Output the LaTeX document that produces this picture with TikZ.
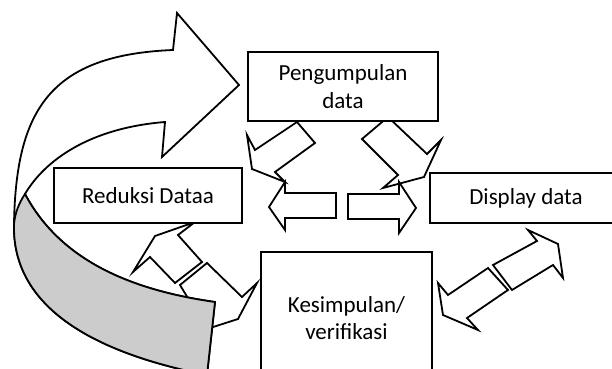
\documentclass[tikz,border=0pt]{standalone}
\usepackage{fontspec}
\setmainfont{Carlito}
\usetikzlibrary{positioning}

\tikzset{
	box/.style={draw=black, fill=white, line width=0.9pt, align=center, inner sep=0pt,
		font=\fontsize{11.5}{13.8}\selectfont},
	blockarrow/.style={draw=black, fill=white, line width=0.9pt},
}

\begin{document}
\begin{tikzpicture}[x=0.5pt,y=-0.5pt]
		\definecolor{band}{gray}{0.8}
		\useasboundingbox (0,0) rectangle (612,369);
		\clip (0,0) rectangle (612,369);
		% Pengumpulan -> Reduksi
		\filldraw[blockarrow]
		      (297,122)
		   -- (315,143)
		   -- (275,172)
		   -- (285,182)
		   -- (252,169)
		   -- (247,135)
		   -- (255,150)
		   -- cycle;
		% Pengumpulan -> Display
		\filldraw[blockarrow]
		      (388,117)
		   -- (427,154)
		   -- (441,140)
		   -- (424,177)
		   -- (383,188)
		   -- (398,175)
		   -- (362,139)
		   -- cycle;
		% middle pair
		\filldraw[blockarrow]
		      (336,193)
		   -- (285,193)
		   -- (285,182)
		   -- (269,207)
		   -- (285,230)
		   -- (285,218)
		   -- (336,218)
		   -- cycle;
		\filldraw[blockarrow]
		      (348,194)
		   -- (399,194)
		   -- (399,182)
		   -- (416,208)
		   -- (399,233)
		   -- (399,219)
		   -- (348,219)
		   -- cycle;
		% Reduksi <-> Kesimpulan
		\filldraw[blockarrow]
		      (202,262)
		   -- (178,235)
		   -- (195,222)
		   -- (155,236)
		   -- (133,272)
		   -- (150,257)
		   -- (175,283)
		   -- cycle;
		\filldraw[blockarrow]
		      (180,285)
		   -- (207,263)
		   -- (242,297)
		   -- (257,283)
		   -- (238,319)
		   -- (210,328)
		   -- (200,318)
		   -- cycle;
		% Kesimpulan <-> Display
		\filldraw[blockarrow]
		      (488,268)
		   -- (448,295)
		   -- (438,283)
		   -- (443,315)
		   -- (478,330)
		   -- (467,318)
		   -- (508,290)
		   -- cycle;
		\filldraw[blockarrow]
		      (493,265)
		   -- (537,241)
		   -- (528,230)
		   -- (558,244)
		   -- (563,278)
		   -- (553,265)
		   -- (512,290)
		   -- cycle;
		% big curved arrow
		\filldraw[blockarrow]
		      (207,375)
		   .. controls (80,350) and (12,300) .. (14,224)
		   .. controls (16,110) and (50,55) .. (173,50)
		   -- (177,13)
		   -- (239,85)
		   -- (162,157)
		   -- (165,122)
		   .. controls (90,128) and (45,160) .. (25,194)
		   .. controls (60,260) and (130,290) .. (215,302)
		   -- cycle;
		\filldraw[blockarrow, fill=band]
		      (25,194)
		   .. controls (60,260) and (130,290) .. (215,302)
		   -- (207,375)
		   .. controls (80,350) and (12,300) .. (14,224)
		   .. controls (15,213) and (19,203) .. (25,194)
		   -- cycle;
		% boxes
		\node[box, minimum width=95pt, minimum height=34.5pt] (kumpul) at (343,86.5) {Pengumpulan\\data};
		\node[box, minimum width=94pt, minimum height=27.5pt] (reduksi) at (148,195.5) {Reduksi Dataa};
		\node[box, minimum width=96pt, minimum height=25pt] (display) at (526,198) {Display data};
		\node[box, minimum width=85.5pt, minimum height=66pt] (simpul) at (346.5,318) {Kesimpulan/\\verifikasi};
	\end{tikzpicture}
\end{document}
